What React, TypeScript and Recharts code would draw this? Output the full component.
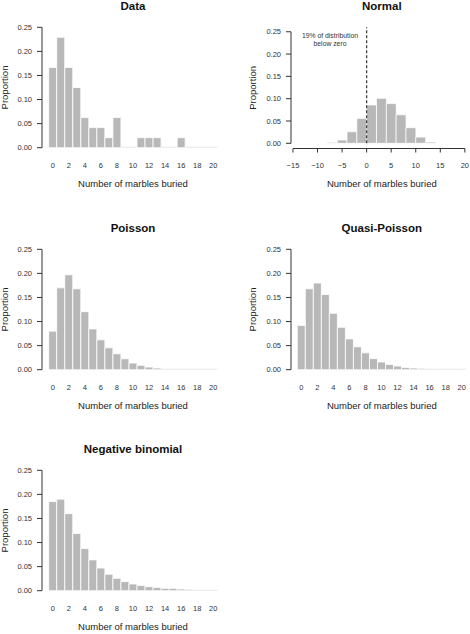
import { Bar, BarChart, Label, ReferenceLine, XAxis, YAxis } from 'recharts'

// marbles buried, 0..20
const counts = [0, 1, 2, 3, 4, 5, 6, 7, 8, 9, 10, 11, 12, 13, 14, 15, 16, 17, 18, 19, 20]

const dataProp = [
  0.1667, 0.2292, 0.1667, 0.125, 0.0625, 0.0417, 0.0417, 0.0208, 0.0625, 0, 0,
  0.0208, 0.0208, 0.0208, 0, 0, 0.0208, 0, 0, 0, 0
]
const poissonProp = [
  0.08, 0.17, 0.197, 0.168, 0.1205, 0.0847, 0.062, 0.0455, 0.033, 0.0227, 0.0138,
  0.009, 0.0055, 0.0034, 0.002, 0.0012, 0.0008, 0.0005, 0.0003, 0.0002, 0.0001
]
const quasiPoissonProp = [
  0.092, 0.168, 0.18, 0.156, 0.117, 0.088, 0.064, 0.0475, 0.035, 0.023, 0.016,
  0.011, 0.0076, 0.0048, 0.0034, 0.0028, 0.002, 0.0014, 0.001, 0.0007, 0.0005
]
const negBinProp = [
  0.185, 0.19, 0.16, 0.119, 0.0875, 0.064, 0.047, 0.034, 0.0257, 0.019, 0.0139,
  0.011, 0.0083, 0.0069, 0.0049, 0.0049, 0.0035, 0.0028, 0.0021, 0.0014, 0.0007
]

// normal fit, 2-wide bins given by their midpoints
const normalMids = [-7, -5, -3, -1, 1, 3, 5, 7, 9, 11, 13]
const normalProp = [0.001, 0.0075, 0.026, 0.056, 0.086, 0.101, 0.089, 0.064, 0.035, 0.014, 0.003]

const propTicks = [0, 0.05, 0.1, 0.15, 0.2, 0.25]
const normalTicks = [-15, -10, -5, 0, 5, 10, 15, 20]

const FONT = '"Liberation Sans", Arial, Helvetica, sans-serif'
const BAR_FILL = '#b8b8b8'
const AXIS = '#333'
const W = 235
const H = 191
const PLOT_TOP = 27.3
const PLOT_BOTTOM = 147.7
const tickStyle = { fontSize: 7.5, fill: '#333' }
const labelStyle = { fontSize: 9.5, fill: '#222' }

const fmtProp = (v: number) => v.toFixed(2)
const fmtMinus = (v: number) => (v < 0 ? '\u2212' + Math.abs(v) : String(v))

const Title = ({ text, centre }: { text: string; centre: number }) => (
  <div
    style={{
      position: 'absolute',
      left: centre - 80,
      top: 0,
      width: 160,
      textAlign: 'center',
      fontWeight: 'bold',
      fontSize: 11.5,
      lineHeight: '12px',
      color: '#111'
    }}
  >
    {text}
  </div>
)

type CountPanelProps = {
  x: number
  y: number
  title: string
  values: number[]
  right?: boolean
}

const CountPanel = ({ x, y, title, values, right }: CountPanelProps) => {
  const rows = counts.map((c, i) => ({ count: c, p: values[i] }))
  const axisW = right ? 56 : 42
  const padL = right ? 6.3 : 6.7
  const padR = right ? 4.3 : 17.7
  const centre = right ? 146.8 : 133
  const axisMid = axisW + (W - axisW) / 2

  return (
    <div style={{ position: 'absolute', left: x, top: y, width: W, height: H }}>
      <BarChart
        width={W}
        height={H}
        data={rows}
        margin={{ top: PLOT_TOP, right: 0, bottom: 0, left: 0 }}
        barCategoryGap={0}
      >
        <XAxis
          dataKey='count'
          interval={1}
          axisLine={false}
          tickLine={false}
          tickSize={0}
          tickMargin={15}
          height={H - PLOT_BOTTOM}
          padding={{ left: padL, right: padR }}
          tick={tickStyle}
        >
          <Label
            value='Number of marbles buried'
            position='insideBottom'
            offset={4}
            dx={centre - axisMid}
            style={labelStyle}
          />
        </XAxis>
        <YAxis
          domain={[0, 0.25]}
          ticks={propTicks}
          allowDataOverflow
          tickFormatter={fmtProp}
          width={axisW}
          tickSize={5}
          tickMargin={5}
          axisLine={{ stroke: AXIS }}
          tickLine={{ stroke: AXIS }}
          tick={tickStyle}
        >
          <Label
            value='Proportion'
            angle={-90}
            position='insideLeft'
            offset={right ? 18 : 5}
            style={{ ...labelStyle, textAnchor: 'middle' }}
          />
        </YAxis>
        <Bar
          dataKey='p'
          fill={BAR_FILL}
          stroke='#fff'
          strokeWidth={0.8}
          minPointSize={1}
          isAnimationActive={false}
        />
      </BarChart>
      <Title text={title} centre={centre} />
    </div>
  )
}

const NormalPanel = ({ x, y }: { x: number; y: number }) => {
  const rows = normalMids.map((m, i) => ({ mid: m, p: normalProp[i] }))
  const xMin = -15.4
  const yMin = -0.0116
  const bottom = 148.5
  const axisW = 56
  const centre = 146.8
  const axisMid = axisW + (W - axisW) / 2

  return (
    <div style={{ position: 'absolute', left: x, top: y, width: W, height: H }}>
      <BarChart
        width={W}
        height={H}
        data={rows}
        margin={{ top: PLOT_TOP, right: 0, bottom: 0, left: 0 }}
        barCategoryGap={0}
      >
        <XAxis
          type='number'
          dataKey='mid'
          domain={[xMin, 21.05]}
          allowDataOverflow
          ticks={normalTicks}
          tickFormatter={fmtMinus}
          axisLine={false}
          tickSize={4}
          tickMargin={10.5}
          tickLine={{ stroke: AXIS }}
          height={H - bottom}
          tick={tickStyle}
        >
          <Label
            value='Number of marbles buried'
            position='insideBottom'
            offset={4}
            dx={centre - axisMid}
            style={labelStyle}
          />
        </XAxis>
        <YAxis
          domain={[yMin, 0.26]}
          allowDataOverflow
          ticks={propTicks}
          tickFormatter={fmtProp}
          width={axisW}
          tickSize={5}
          tickMargin={5}
          axisLine={false}
          tickLine={{ stroke: AXIS }}
          tick={tickStyle}
        >
          <Label
            value='Proportion'
            angle={-90}
            position='insideLeft'
            offset={18}
            style={{ ...labelStyle, textAnchor: 'middle' }}
          />
        </YAxis>
        <Bar
          dataKey='p'
          fill={BAR_FILL}
          stroke='#fff'
          strokeWidth={0.8}
          minPointSize={1}
          isAnimationActive={false}
        />
        {/* R-style axes only run between the outer ticks */}
        <ReferenceLine
          segment={[{ x: xMin, y: 0 }, { x: xMin, y: 0.25 }]}
          stroke={AXIS}
        />
        <ReferenceLine
          segment={[{ x: -15, y: yMin }, { x: 20, y: yMin }]}
          stroke={AXIS}
        />
        <ReferenceLine
          segment={[{ x: 0, y: 0 }, { x: 0, y: 0.26 }]}
          stroke='#444'
          strokeWidth={1.3}
          strokeDasharray='3 2'
        />
      </BarChart>
      <div
        style={{
          position: 'absolute',
          left: 95 - 50,
          top: 31.5,
          width: 100,
          textAlign: 'center',
          fontSize: 6.8,
          lineHeight: '8.7px',
          color: '#333'
        }}
      >
        19% of distribution
        <br />
        below zero
      </div>
      <Title text='Normal' centre={centre} />
    </div>
  )
}

export default function App() {
  return (
    <div
      style={{
        position: 'absolute',
        left: 0,
        top: 0,
        width: 470,
        height: 634,
        overflow: 'hidden',
        background: '#fff',
        fontFamily: FONT
      }}
    >
      <CountPanel x={0} y={0} title='Data' values={dataProp} />
      <NormalPanel x={235} y={0} />
      <CountPanel x={0} y={222} title='Poisson' values={poissonProp} />
      <CountPanel x={235} y={222} title='Quasi-Poisson' values={quasiPoissonProp} right />
      <CountPanel x={0} y={443} title='Negative binomial' values={negBinProp} />
    </div>
  )
}
